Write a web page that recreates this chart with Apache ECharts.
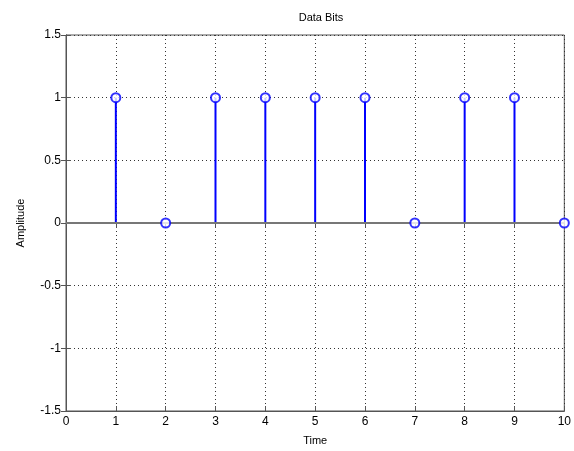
<!DOCTYPE html>
<html>
<head>
<meta charset="utf-8">
<script src="https://cdn.jsdelivr.net/npm/echarts@6/dist/echarts.min.js"></script>
<style>
  html, body { margin: 0; padding: 0; background: #fff; }
  #chart { width: 574px; height: 451px; }
</style>
</head>
<body>
<div id="chart"></div>
<script>
// bit positions and values
const timeSteps = [1, 2, 3, 4, 5, 6, 7, 8, 9, 10]
const bitValues = [1, 0, 1, 1, 1, 1, 0, 1, 1, 0]

const stemData = timeSteps.map((t, i) => [t, bitValues[i]])
const font = 'Liberation Sans, Arial, sans-serif'

let myChart = echarts.init(document.getElementById('chart'))

let dotted = { color: '#333', width: 1, type: [1, 3] }
let option = {
  animation: false,
  title: {
    text: 'Data Bits',
    left: 316,
    top: 7,
    textAlign: 'center',
    textStyle: { fontSize: 11, fontWeight: 'normal', color: '#000', fontFamily: font }
  },
  grid: { left: 66, right: 7, top: 35, bottom: 38, show: true, borderColor: '#555', borderWidth: 1 },
  xAxis: [{
    type: 'value',
    min: 0,
    max: 10,
    interval: 1,
    name: 'Time',
    nameLocation: 'middle',
    nameGap: 24,
    nameTextStyle: { fontSize: 11, color: '#000', fontFamily: font },
    axisLine: { show: true, onZero: false, lineStyle: { color: '#555' } },
    axisTick: { show: true, inside: true, length: 5, lineStyle: { color: '#555' } },
    axisLabel: { fontSize: 12, color: '#000', fontFamily: font, margin: 5 },
    splitLine: { show: true, lineStyle: dotted }
  }, {
    type: 'value',
    position: 'top',
    min: 0,
    max: 10,
    interval: 1,
    axisLine: { show: true, lineStyle: { color: '#555' } },
    axisTick: { show: true, inside: true, length: 5, lineStyle: { color: '#555' } },
    axisLabel: { show: false },
    splitLine: { show: false }
  }],
  yAxis: [{
    type: 'value',
    min: -1.5,
    max: 1.5,
    interval: 0.5,
    name: 'Amplitude',
    nameLocation: 'middle',
    nameGap: 40,
    nameRotate: 90,
    nameTextStyle: { fontSize: 11, color: '#000', fontFamily: font },
    axisLine: { show: true, onZero: false, lineStyle: { color: '#555' } },
    axisTick: { show: true, inside: true, length: 5, lineStyle: { color: '#555' } },
    axisLabel: { fontSize: 12, color: '#000', fontFamily: font, margin: 5 },
    splitLine: { show: true, lineStyle: dotted }
  }, {
    type: 'value',
    position: 'right',
    min: -1.5,
    max: 1.5,
    interval: 0.5,
    axisLine: { show: true, lineStyle: { color: '#555' } },
    axisTick: { show: true, inside: true, length: 5, lineStyle: { color: '#555' } },
    axisLabel: { show: false },
    splitLine: { show: false }
  }],
  series: [{
    // stems
    type: 'bar',
    data: stemData,
    barWidth: 2,
    itemStyle: { color: '#0000ff' },
    silent: true,
    markLine: {
      silent: true,
      symbol: 'none',
      label: { show: false },
      lineStyle: { color: '#777', type: 'solid', width: 2 },
      data: [{ yAxis: 0 }]
    }
  }, {
    // markers
    type: 'scatter',
    data: stemData,
    symbol: 'circle',
    symbolSize: 9,
    clip: false,
    z: 5,
    itemStyle: { color: '#fff', borderColor: '#0000ff', borderWidth: 2 }
  }]
}
myChart.setOption(option)
</script>
</body>
</html>
